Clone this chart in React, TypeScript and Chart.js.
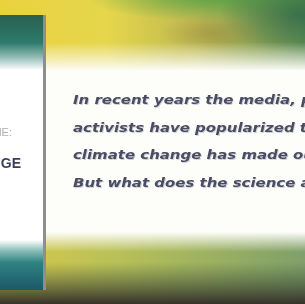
import React, { useEffect, useRef } from "react";
import { Chart, registerables } from "chart.js";

Chart.register(...registerables);

// Text content
const textLines = [
  "In recent years the media, politicians and",
  "activists have popularized the idea that",
  "climate change has made our weather worse.",
  "But what does the science actually say?",
];
const coverLines = ["THE:", "CHANGE"];

function vfade(ctx: any, y0: number, y1: number, c0: string, c1: string, x0 = 0, x1 = 305) {
  const g = ctx.createLinearGradient(0, y0, 0, y1);
  g.addColorStop(0, c0);
  g.addColorStop(1, c1);
  ctx.fillStyle = g;
  ctx.fillRect(x0, y0, x1 - x0, y1 - y0);
}

function glow(ctx: any, cx: number, cy: number, rx: number, ry: number, color: string, alpha: number) {
  ctx.save();
  ctx.translate(cx, cy);
  ctx.scale(rx / ry, 1);
  const g = ctx.createRadialGradient(0, 0, 0, 0, 0, ry);
  g.addColorStop(0, `rgba(${color},${alpha})`);
  g.addColorStop(1, `rgba(${color},0)`);
  ctx.fillStyle = g;
  ctx.fillRect(-ry, -ry, 2 * ry, 2 * ry);
  ctx.restore();
}

const backdropPlugin = {
  id: "backdrop",
  beforeDraw(chart: any) {
    const { ctx, width: w, height: h } = chart;
    ctx.save();
    ctx.fillStyle = "#fdfdf9";
    ctx.fillRect(0, 0, w, h);

    // top band
    ctx.save();
    ctx.beginPath();
    ctx.rect(0, 0, w, 70);
    ctx.clip();
    const th = ctx.createLinearGradient(0, 0, w, 0);
    th.addColorStop(0, "#ead23e");
    th.addColorStop(0.35, "#e5d64c");
    th.addColorStop(0.65, "#bdb852");
    th.addColorStop(1, "#5f8d55");
    ctx.fillStyle = th;
    ctx.fillRect(0, 0, w, 70);
    glow(ctx, 215, -4, 130, 26, "80,160,70", 0.9);
    glow(ctx, 300, 14, 80, 40, "40,100,70", 0.7);
    glow(ctx, 210, 33, 50, 18, "150,130,60", 0.45);
    ctx.restore();
    vfade(ctx, 42, 71, "rgba(253,253,249,0)", "rgba(253,253,249,1)");

    // bottom band
    const bh = ctx.createLinearGradient(0, 0, w, 0);
    bh.addColorStop(0, "#d9c94a");
    bh.addColorStop(0.4, "#b7c058");
    bh.addColorStop(1, "#7fa06a");
    ctx.fillStyle = bh;
    ctx.fillRect(0, 232, w, h - 232);
    vfade(ctx, 232, 252, "rgba(253,253,249,1)", "rgba(253,253,249,0)");
    vfade(ctx, 262, 304, "rgba(60,85,60,0)", "rgba(55,50,42,1)");

    // book cover on the left
    const ct = ctx.createLinearGradient(0, 15, 0, 70);
    ct.addColorStop(0, "#2a6050");
    ct.addColorStop(0.5, "#2d7a6c");
    ct.addColorStop(0.75, "#8bb6b0");
    ct.addColorStop(1, "#ffffff");
    ctx.fillStyle = ct;
    ctx.fillRect(0, 15, 44, 55);
    ctx.fillStyle = "#ffffff";
    ctx.fillRect(0, 70, 44, 172);
    const cb = ctx.createLinearGradient(0, 240, 0, 290);
    cb.addColorStop(0, "#ffffff");
    cb.addColorStop(0.2, "#8fc0bc");
    cb.addColorStop(0.45, "#2f8382");
    cb.addColorStop(1, "#1d5868");
    ctx.fillStyle = cb;
    ctx.fillRect(0, 240, 44, 50);
    ctx.fillStyle = "#8e8e8e";
    ctx.fillRect(43, 15, 3, 275);

    ctx.textBaseline = "middle";
    ctx.textAlign = "right";
    ctx.fillStyle = "#b0b0b0";
    ctx.font = "11px 'Liberation Sans'";
    ctx.fillText(coverLines[0], 12, 133);
    ctx.fillStyle = "#3b4058";
    ctx.font = "bold 14px 'Liberation Sans'";
    ctx.fillText(coverLines[1], 21, 164);

    // main text
    ctx.textAlign = "left";
    ctx.font = "italic bold 13px 'DejaVu Sans'";
    textLines.forEach((t, i) => {
      const y = 101 + i * 27.5;
      ctx.save();
      ctx.translate(73, y);
      ctx.scale(1.15, 1);
      ctx.fillStyle = "rgba(150,150,175,0.45)";
      ctx.fillText(t, 0.8, 1);
      ctx.fillStyle = "#4a4d62";
      ctx.fillText(t, 0, 0);
      ctx.restore();
    });
    ctx.restore();
  },
};

export default function App() {
  const ref = useRef<HTMLCanvasElement>(null);
  useEffect(() => {
    document.body.style.margin = "0";
    const chart = new Chart(ref.current!, {
      type: "scatter",
      data: { datasets: [{ data: [] }] },
      options: {
        animation: false,
        responsive: false,
        events: [],
        plugins: { legend: { display: false }, tooltip: { enabled: false } },
        scales: { x: { display: false }, y: { display: false } },
      },
      plugins: [backdropPlugin],
    });
    return () => chart.destroy();
  }, []);
  return (
    <div style={{ width: 305, height: 304 }}>
      <canvas ref={ref} width={305} height={304} />
    </div>
  );
}
